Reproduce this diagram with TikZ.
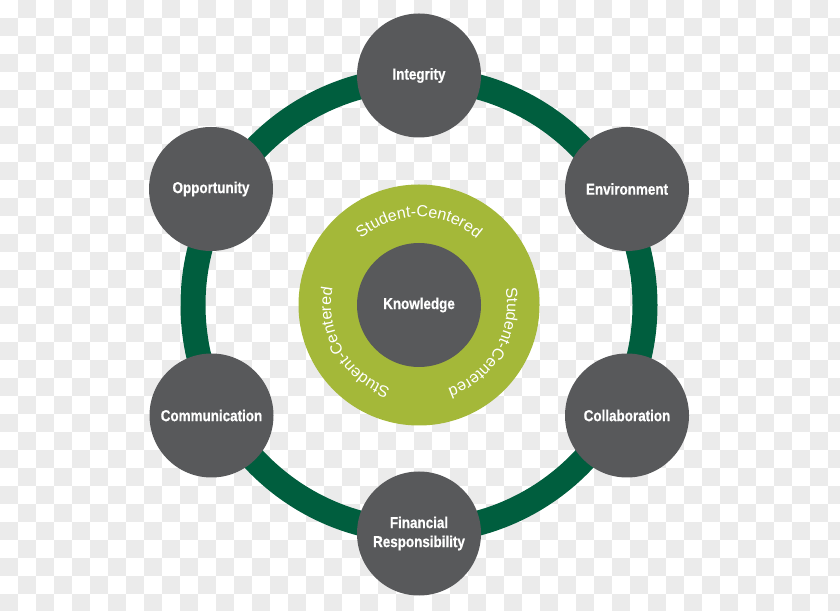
\documentclass[tikz,border=0pt]{standalone}
\usepackage{fontspec}
\setmainfont{Liberation Sans}
\newfontfamily\labfont{Liberation Sans}[FakeStretch=0.85,FakeBold=0.6]
\newfontfamily\arcfont{Liberation Sans}
\usetikzlibrary{decorations.text}
\definecolor{nodegray}{RGB}{88,89,91}
\definecolor{ringgreen}{RGB}{0,94,62}
\definecolor{lightgreen}{RGB}{164,184,57}
\definecolor{checker}{RGB}{235,235,235}
\tikzset{
  bub/.style={circle, fill=nodegray, minimum size=124pt, inner sep=0pt, text=white,
    align=center, font=\labfont\bfseries\fontsize{15.8}{19}\selectfont},
  ring/.style={draw=ringgreen, line width=25pt},
  arctext/.style={decorate, decoration={text along path, text align=center,
    text color=white, text={|\arcfont\fontsize{16}{19}\selectfont|Student-Centered}}}
}
\begin{document}
\begin{tikzpicture}[x=1pt,y=1pt]
\useasboundingbox (0,0) rectangle (840,610);
\begin{scope}
\clip (0,0) rectangle (840,610);
\foreach \i in {0,...,46}{
  \foreach \j in {0,...,33}{
    \pgfmathtruncatemacro\s{mod(\i+\j,2)}
    \ifnum\s=1
      \fill[checker] (18*\i,610-18*\j) rectangle ++(18,-18);
    \fi
  }
}
\end{scope}
\coordinate (C) at (419,305);
\draw[ring] (C) circle[radius=226];
\fill[lightgreen] (C) circle[radius=120.5];
\node[bub] (know) at (C) {Knowledge};
\path[shift={(C)}, arctext] (150:88) arc[start angle=150, end angle=30, radius=88];
\path[shift={(C)}, arctext] (30:88) arc[start angle=30, end angle=-90, radius=88];
\path[shift={(C)}, arctext] (270:88) arc[start angle=270, end angle=150, radius=88];
\node[bub] (int) at (419,534.5) {Integrity};
\node[bub] (env) at (627,421) {Environment};
\node[bub] (col) at (627,194.5) {Collaboration};
\node[bub] (fin) at (419,76.5) {Financial\\Responsibility};
\node[bub] (com) at (211.5,194.5) {Communication};
\node[bub] (opp) at (211,421) {Opportunity};
\end{tikzpicture}
\end{document}
